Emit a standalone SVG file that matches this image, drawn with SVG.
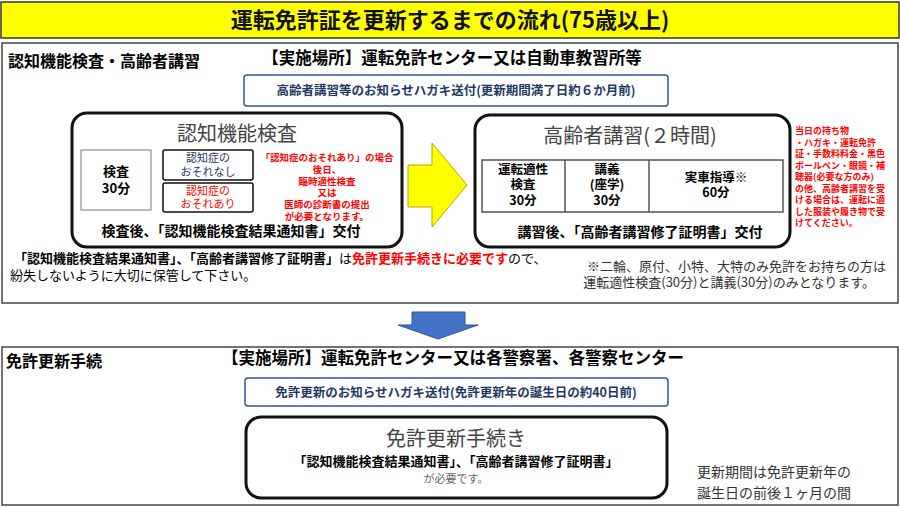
<svg xmlns="http://www.w3.org/2000/svg" width="900" height="507" viewBox="0 0 900 507">
<style>
text{font-family:"Noto Sans CJK JP","Noto Sans",sans-serif;}
.b{font-weight:bold}
.c{text-anchor:middle}
.node{fill:#fff;stroke:#111;stroke-width:3}
.sec{fill:#fff;stroke:#444;stroke-width:1.5}
.note{fill:#fff;stroke:#2f5597;stroke-width:1.5}
.red{fill:#f00}
.navy{fill:#1f3864}
</style>
<rect x="0" y="0" width="900" height="507" fill="#fff"/>
<g id="title"><rect x="1" y="2" width="898" height="36" fill="#ff0" stroke="#333" stroke-width="1.5"/>
<text x="450" y="28" class="c b" font-size="22" fill="#111">運転免許証を更新するまでの流れ(75歳以上)</text></g>
<g id="section1"><rect class="sec" x="2" y="43" width="896" height="260"/>
<text x="8" y="67" class="b" font-size="16">認知機能検査・高齢者講習</text>
<text x="452" y="64" class="c b" font-size="16.5">【実施場所】運転免許センター又は自動車教習所等</text></g>
<g id="notice1"><rect class="note" x="244" y="75" width="424" height="31" rx="3"/>
<text x="456" y="95" class="c b navy" font-size="12.5">高齢者講習等のお知らせハガキ送付(更新期間満了日約６か月前)</text></g>
<g id="cognitive"><rect class="node" x="72" y="113" width="330" height="134" rx="15"/>
<text x="237" y="141" class="c" font-size="20" fill="#444">認知機能検査</text>
<rect x="81" y="150" width="70" height="60" fill="#fff" stroke="#777"/>
<text x="116" y="176" class="c b" font-size="13">検査</text><text x="116" y="193" class="c b" font-size="13">30分</text>
<rect x="163" y="150" width="90" height="30" rx="2" fill="#fff" stroke="#111" stroke-width="1.5"/>
<text x="208" y="162" class="c navy" font-size="11">認知症の</text><text x="208" y="176" class="c navy" font-size="11">おそれなし</text>
<rect x="163" y="183" width="90" height="29" rx="2" fill="#fff" stroke="#111" stroke-width="1.5"/>
<text x="208" y="195" class="c red" font-size="11">認知症の</text><text x="208" y="208" class="c red" font-size="11">おそれあり</text>
<g class="c red b" font-size="9.5"><text x="327" y="161">「認知症のおそれあり」の場合</text><text x="327" y="173">後日、</text><text x="327" y="185">臨時適性検査</text><text x="327" y="196">又は</text><text x="327" y="208">医師の診断書の提出</text><text x="327" y="220">が必要となります。</text></g>
<text x="231" y="236" class="c b" font-size="14">検査後、「認知機能検査結果通知書」交付</text></g>
<g id="connectors">
<polygon points="408,165 432,165 432,143 467,185 432,227 432,207 408,207" fill="#ff0" stroke="#bfa000" stroke-width="1"/>
<polygon points="412,312 465,312 465,325 478,325 438,339 398,325 412,325" fill="#4472c4" stroke="#2f5597" stroke-width="1"/>
</g>
<g id="lecture"><rect class="node" x="475" y="115" width="315" height="132" rx="15"/>
<text x="630" y="143" class="c" font-size="20" fill="#444">高齢者講習(２時間)</text>
<rect x="482" y="160" width="301" height="52" fill="#fff" stroke="#555" stroke-width="1.5"/>
<line x1="565" y1="160" x2="565" y2="212" stroke="#555" stroke-width="1.5"/><line x1="649" y1="160" x2="649" y2="212" stroke="#555" stroke-width="1.5"/>
<g class="c b" font-size="12.5"><text x="523" y="174">運転適性</text><text x="523" y="189">検査</text><text x="523" y="205">30分</text>
<text x="607" y="174">講義</text><text x="607" y="189">(座学)</text><text x="607" y="205">30分</text>
<text x="716" y="182">実車指導※</text><text x="716" y="197">60分</text></g>
<text x="640" y="237" class="c b" font-size="14">講習後、「高齢者講習修了証明書」交付</text></g>
<g id="belongings" class="red b" font-size="9"><text x="795" y="134">当日の持ち物</text><text x="795" y="146">・ハガキ・運転免許</text><text x="795" y="157">証・手数料料金・黒色</text><text x="795" y="169">ボールペン・眼鏡・補</text><text x="795" y="180">聴器(必要な方のみ)</text><text x="795" y="192">の他、高齢者講習を受</text><text x="795" y="203">ける場合は、運転に適</text><text x="795" y="215">した服装や履き物で受</text><text x="795" y="226">けてください。</text></g>
<g id="note1" font-size="13"><text x="14" y="263"><tspan class="b">「認知機能検査結果通知書」、「高齢者講習修了証明書」</tspan>は<tspan class="b" fill="#f00">免許更新手続きに必要です</tspan>ので、</text>
<text x="10" y="280">紛失しないように大切に保管して下さい。</text></g>
<g id="note2" font-size="13" fill="#333" text-anchor="end"><text x="886" y="271">※二輪、原付、小特、大特のみ免許をお持ちの方は</text><text x="875" y="287">運転適性検査(30分)と講義(30分)のみとなります。</text></g>
<g id="section2"><rect class="sec" x="2" y="347" width="896" height="158"/>
<text x="6" y="367" class="b" font-size="16">免許更新手続</text>
<text x="453" y="364" class="c b" font-size="16.5">【実施場所】運転免許センター又は各警察署、各警察センター</text></g>
<g id="notice2"><rect class="note" x="245" y="378" width="423" height="28" rx="3"/>
<text x="456" y="397" class="c b navy" font-size="12.5">免許更新のお知らせハガキ送付(免許更新年の誕生日の約40日前)</text></g>
<g id="renewal"><rect class="node" x="246" y="417" width="421" height="81" rx="15"/>
<text x="456" y="446" class="c" font-size="20" fill="#444">免許更新手続き</text>
<text x="456" y="466" class="c b" font-size="13">「認知機能検査結果通知書」、「高齢者講習修了証明書」</text>
<text x="456" y="483" class="c" font-size="11" fill="#666">が必要です。</text></g>
<g id="period" font-size="14" fill="#333"><text x="697" y="477">更新期間は免許更新年の</text><text x="697" y="498">誕生日の前後１ヶ月の間</text></g>
</svg>
